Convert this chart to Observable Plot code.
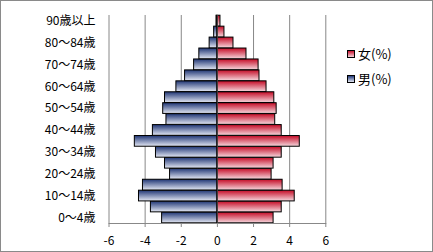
<!DOCTYPE html>
<html><head><meta charset="utf-8">
<script src="https://cdn.jsdelivr.net/npm/d3@7"></script>
<script src="https://cdn.jsdelivr.net/npm/@observablehq/plot@0.6"></script>
<style>
body{margin:0;background:#fff;font-family:"Noto Sans CJK JP",sans-serif;}
#wrap{position:relative;width:433px;height:252px;overflow:hidden;}
#frame{position:absolute;left:0;top:0;width:431px;height:250px;border:1px solid #8a8a8a;pointer-events:none;}
.lg{position:absolute;left:347px;font-size:13px;color:#000;display:flex;align-items:center;white-space:nowrap;}
.sw{width:6px;height:6px;border:1px solid #000;margin-right:3px;}
</style></head><body>
<div id="wrap"><div id="frame"></div>
<div class="lg" style="top:44px"><span class="sw" style="background:linear-gradient(#c8102e,#f4d4da)"></span>女(%)</div>
<div class="lg" style="top:69px"><span class="sw" style="background:linear-gradient(#22397a,#e2e6f2)"></span>男(%)</div>
</div>
<script>
const ages = ["0～4歳","5～9歳","10～14歳","15～19歳","20～24歳","25～29歳","30～34歳","35～39歳","40～44歳","45～49歳","50～54歳","55～59歳","60～64歳","65～69歳","70～74歳","75～79歳","80～84歳","85～89歳","90歳以上"];
const male = [-3.06,-3.68,-4.34,-4.12,-2.62,-2.9,-3.4,-4.57,-3.57,-2.82,-3.0,-2.9,-2.27,-1.79,-1.29,-1.0,-0.43,-0.18,-0.05];
const female = [3.11,3.56,4.28,3.61,3.0,3.11,3.56,4.56,3.56,3.2,3.28,3.15,2.72,2.33,2.28,1.61,0.89,0.39,0.17];
const xTicks = [-6,-4,-2,0,2,4,6];
const yTicks = ages.filter((d,i)=>i%2===0);

const rows = ages.map((a,i)=>({age:a, m:male[i], f:female[i]}));

const defs = () => {
  const ns = "http://www.w3.org/2000/svg";
  const d = document.createElementNS(ns,"defs");
  d.innerHTML = `
  <linearGradient id="gM" x1="0" y1="0" x2="0" y2="1">
    <stop offset="0" stop-color="#1f3574"/><stop offset="1" stop-color="#e4e8f4"/>
  </linearGradient>
  <linearGradient id="gF" x1="0" y1="0" x2="0" y2="1">
    <stop offset="0" stop-color="#c40a25"/><stop offset="1" stop-color="#f6d8de"/>
  </linearGradient>`;
  return d;
};

const plot = Plot.plot({
  width: 433,
  height: 252,
  marginLeft: 108.5,
  marginRight: 107.7,
  marginTop: 15,
  marginBottom: 29,
  style: {fontFamily: '"Noto Sans CJK JP", sans-serif', fontSize: "12px", color: "#000", background: "transparent"},
  x: {domain: [-6, 6], ticks: xTicks, tickFormat: d => String(d), label: null, tickSize: 4, tickPadding: 9},
  y: {domain: ages.slice().reverse(), ticks: yTicks, label: null, tickSize: 0, tickPadding: 13.5, padding: 0.02, align: 0.5, round: false},
  marks: [
    defs,
    Plot.ruleX([-6,-4,-2,2,4,6], {stroke: "#888", strokeOpacity: 1}),
    Plot.barX(rows, {y: "age", x1: 0, x2: "m", fill: "url(#gM)", stroke: "#000", strokeWidth: 1}),
    Plot.barX(rows, {y: "age", x1: 0, x2: "f", fill: "url(#gF)", stroke: "#000", strokeWidth: 1}),
    Plot.ruleX([0], {stroke: "#404040", strokeWidth: 1}),
    Plot.frame({anchor: "bottom", stroke: "#888"}),
    Plot.axisX({ticks: xTicks, tickFormat: d => String(d), tickSize: 4, tickPadding: 9, stroke: "#888", label: null}),
    Plot.axisY({ticks: yTicks, tickSize: 0, tickPadding: 13.5, label: null})
  ]
});
plot.style.position = "absolute";
plot.style.left = "0";
plot.style.top = "0";
document.getElementById("wrap").prepend(plot);
</script>
</body></html>
